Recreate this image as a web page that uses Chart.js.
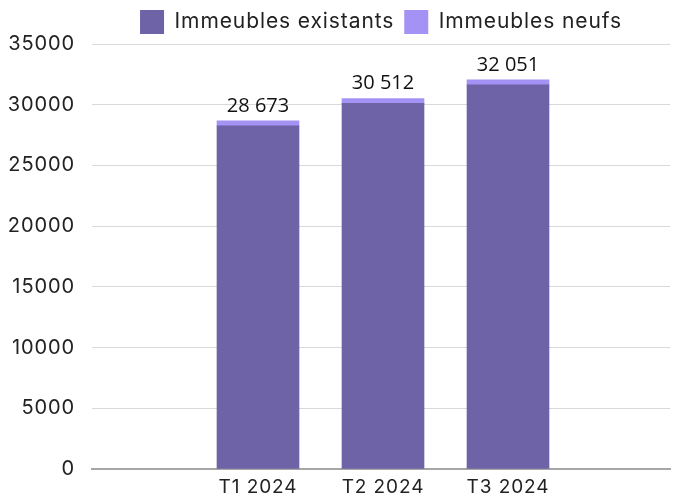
<!DOCTYPE html>
<html>
<head>
<meta charset="utf-8">
<script src="https://cdn.jsdelivr.net/npm/chart.js@4"></script>
<style>
  html, body { margin: 0; padding: 0; background: #fff; }
  #wrap { width: 673px; height: 499px; }
</style>
</head>
<body>
<div id="wrap"><canvas id="myChart" width="673" height="499"></canvas></div>
<script>
const categories = ['T1 2024', 'T2 2024', 'T3 2024'];
const existants = [28263, 30112, 31631];
const neufs = [410, 400, 420];
const totals = [28673, 30512, 32051];
const yTicks = [0, 5000, 10000, 15000, 20000, 25000, 30000, 35000];

const fontMain = 'Inter, "Noto Sans", sans-serif';

// a bit of letter spacing so Inter gets closer to the wider original font
const spacing = {
    id: 'spacing',
    beforeLayout(chart) { chart.ctx.letterSpacing = '0.9px'; },
    beforeDraw(chart) { chart.ctx.letterSpacing = '0.9px'; }
};

// draw the totals above each stacked bar
const totalLabels = {
    id: 'totalLabels',
    afterDatasetsDraw(chart) {
        const ctx = chart.ctx;
        const meta = chart.getDatasetMeta(1);
        ctx.save();
        ctx.letterSpacing = '0px';
        ctx.font = '20px "Open Sans"';
        ctx.fillStyle = '#111';
        ctx.textAlign = 'center';
        ctx.textBaseline = 'alphabetic';
        meta.data.forEach((bar, i) => {
            const txt = totals[i].toLocaleString('fr-FR').replace(/\s/g, ' ');
            ctx.fillText(txt, bar.x, bar.y - 9);
        });
        ctx.restore();
    }
};

const ctx = document.getElementById('myChart').getContext('2d');
const chart = new Chart(ctx, {
    type: 'bar',
    data: {
        datasets: [{
            label: 'Immeubles existants',
            data: existants.map((v, i) => ({ x: i + 1, y: v })),
            backgroundColor: '#6e63a7',
            barThickness: 82
        }, {
            label: 'Immeubles neufs',
            data: neufs.map((v, i) => ({ x: i + 1, y: v })),
            backgroundColor: '#a492f5',
            barThickness: 82
        }]
    },
    options: {
        responsive: false,
        animation: false,
        layout: { padding: { top: 0, right: 3, left: 0, bottom: 0 } },
        plugins: {
            legend: {
                position: 'top',
                fullSize: false,
                labels: {
                    boxWidth: 24,
                    boxHeight: 24,
                    padding: 10,
                    color: '#222',
                    font: { family: fontMain, size: 21 }
                }
            },
            tooltip: { enabled: false }
        },
        scales: {
            x: {
                type: 'linear',
                stacked: true,
                offset: false,
                min: -0.328,
                max: 4.296,
                afterBuildTicks: scale => {
                    scale.ticks = categories.map((c, i) => ({ value: i + 1 }));
                },
                afterFit: scale => { scale.height = 30; },
                grid: { display: false, drawTicks: false },
                border: { display: true, color: '#a6a6a6', width: 2 },
                ticks: {
                    autoSkip: false,
                    maxRotation: 0,
                    padding: 9,
                    color: '#222',
                    font: { family: fontMain, size: 19, lineHeight: 1 },
                    callback: v => categories[v - 1] || ''
                }
            },
            y: {
                stacked: true,
                min: 0,
                max: 35000,
                afterBuildTicks: scale => {
                    scale.ticks = yTicks.map(v => ({ value: v }));
                },
                afterFit: scale => { scale.width = 92; },
                grid: {
                    color: c => c.tick && c.tick.value === 0 ? '#a6a6a6' : '#d9d9d9',
                    lineWidth: 1,
                    drawTicks: false
                },
                border: { display: false },
                ticks: {
                    padding: 17,
                    color: '#222',
                    font: { family: fontMain, size: 20 },
                    callback: v => String(v)
                }
            }
        }
    },
    plugins: [spacing, totalLabels]
});
</script>
</body>
</html>
